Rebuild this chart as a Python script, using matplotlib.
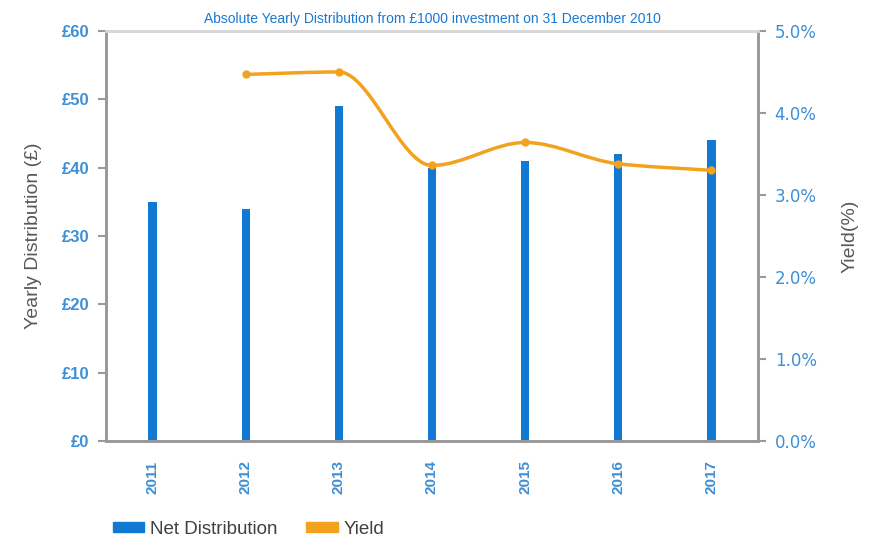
import matplotlib
matplotlib.use("Agg")
import matplotlib.pyplot as plt
from matplotlib.path import Path
from matplotlib.patches import PathPatch, Patch
import numpy as np

plt.rcParams['font.family'] = ['Liberation Sans', 'DejaVu Sans']

# data
years = ['2011', '2012', '2013', '2014', '2015', '2016', '2017']
net_distribution = [35, 34, 49, 40, 41, 42, 44]
yield_years = ['2012', '2013', '2014', '2015', '2016', '2017']
yield_pct = [4.47, 4.50, 3.36, 3.64, 3.38, 3.30]

blue = '#1279d3'
orange = '#f2a21e'
tick_blue = '#3d8fd6'
grey = '#9a9a9a'

fig = plt.figure(figsize=(8.7, 5.41), dpi=100)
ax = fig.add_axes([0.1218, 0.1848, 0.7495, 0.758])
ax2 = ax.twinx()

x = np.arange(len(years))
ax.bar(x, net_distribution, width=0.09, color=blue, zorder=2)
ax.set_xlim(-0.5, len(years) - 0.5)
ax.set_ylim(0, 60)
ax.set_yticks(range(0, 61, 10))
ax.set_yticklabels(['£%d' % v for v in range(0, 61, 10)])
ax.set_xticks(x)
ax.set_xticklabels(years, rotation=90, fontsize=11, fontweight='bold', color=tick_blue)
ax.tick_params(axis='x', length=0, pad=14)
ax.tick_params(axis='y', colors=grey, labelcolor=tick_blue, labelsize=12, length=6, width=1.5, pad=6)
for lab in ax.get_yticklabels():
    lab.set_fontweight('bold')

# smoothed yield line: monotone cubic bezier through the points
xi = np.array([years.index(y) for y in yield_years], dtype=float)
yi = np.array(yield_pct)
n = len(xi)
d = np.diff(yi) / np.diff(xi)
m = np.zeros(n)
m[0], m[-1] = d[0], d[-1]
for i in range(1, n - 1):
    if d[i - 1] * d[i] <= 0:
        m[i] = 0
    else:
        m[i] = 2 / (1 / d[i - 1] + 1 / d[i])
verts = [(xi[0], yi[0])]
codes = [Path.MOVETO]
for i in range(n - 1):
    h = xi[i + 1] - xi[i]
    verts += [(xi[i] + h / 3, yi[i] + m[i] * h / 3),
              (xi[i + 1] - h / 3, yi[i + 1] - m[i + 1] * h / 3),
              (xi[i + 1], yi[i + 1])]
    codes += [Path.CURVE4] * 3
ax2.add_patch(PathPatch(Path(verts, codes), facecolor='none', edgecolor=orange, lw=2.5, zorder=3))
ax2.plot(xi, yi, 'o', color=orange, ms=5, zorder=4)

ax2.set_ylim(0, 5)
ax2.set_yticks(np.arange(0, 5.01, 1))
ax2.set_yticklabels(['%.1f%%' % v for v in np.arange(0, 5.01, 1)], family='DejaVu Sans')
ax2.tick_params(axis='y', colors=grey, labelcolor=tick_blue, labelsize=12, length=6, width=1.5, pad=6)

for a in (ax, ax2):
    for side in ('left', 'right', 'bottom'):
        a.spines[side].set_color(grey)
        a.spines[side].set_linewidth(2)
    a.spines['top'].set_color('#d8d8d8')
    a.spines['top'].set_linewidth(2)

ax.set_ylabel('Yearly Distribution (£)', fontsize=14, color='#595959', labelpad=14)
ax2.set_ylabel('Yield(%)', fontsize=14, color='#595959', labelpad=18)
ax.set_title('Absolute Yearly Distribution from £1000 investment on 31 December 2010',
             fontsize=10, color='#1a78d2', pad=6)

handles = [Patch(color=blue, label='Net Distribution'), Patch(color=orange, label='Yield')]
fig.legend(handles=handles, loc='lower left', bbox_to_anchor=(0.11, -0.025), ncol=2, frameon=False,
           fontsize=13.5, labelcolor='#404040', handlelength=1.7, handleheight=0.4, handletextpad=0.3,
           columnspacing=1.5)

fig.savefig('out.png', dpi=100)
